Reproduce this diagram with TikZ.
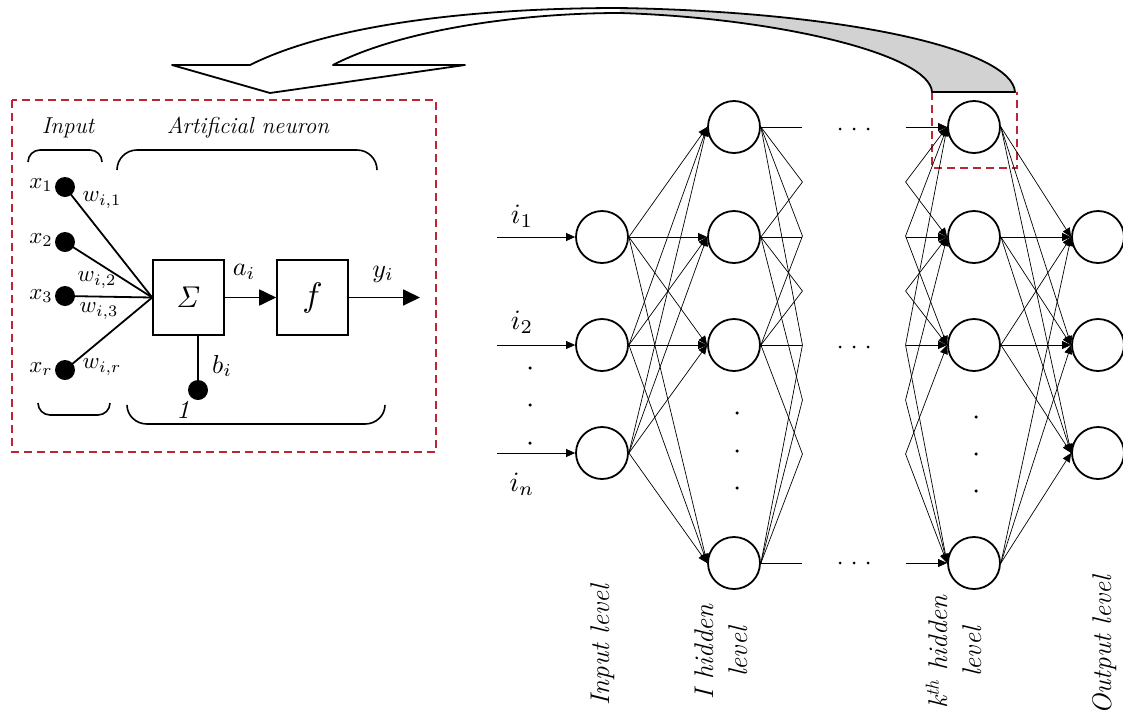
\documentclass[tikz,border=0pt]{standalone}
\usetikzlibrary{arrows.meta,calc}
\definecolor{dashred}{RGB}{185,40,50}
\begin{document}
\begin{tikzpicture}[x=1pt,y=-1pt,
  every node/.style={inner sep=0pt},
  nline/.style={line width=1.8pt},
  bigdot/.style={circle,fill=black,minimum size=20pt,inner sep=0pt},
  tinydot/.style={circle,fill=black,minimum size=3.5pt,inner sep=0pt},
  opbox/.style={draw,line width=1.6pt,minimum width=71pt,minimum height=75pt,inner sep=0pt},
  unit/.style={circle,draw,line width=1.8pt,minimum size=52pt,inner sep=0pt},
  link/.style={line width=0.7pt},
  netarrow/.style={link,-{Triangle[length=9pt,width=8pt]}},
  bigarrow/.style={line width=1.8pt,-{Triangle[length=17pt,width=16pt]}},
  redbox/.style={draw=dashred,line width=1.8pt,dash pattern=on 8pt off 5pt},
  bracepath/.style={line width=1.6pt},
  headlbl/.style={font=\fontsize{23}{26}\selectfont\itshape},
  botlbl/.style={font=\fontsize{27}{34}\selectfont\itshape,rotate=90,align=center},
  xlab/.style={scale=2.3},
  mlab/.style={scale=2.6},
  netlab/.style={scale=2.8},
]
\useasboundingbox (0,0) rectangle (1123,718);

% ---------- dashed frames ----------
\draw[redbox] (12,100) rectangle (436,452);
\draw[redbox] (932,92) -- (932,168) -- (1017,168) -- (1017,92);

% ---------- big curved arrow ----------
\fill[gray!35] (620,8) .. controls (850,12) and (1012,50) .. (1015,92) -- (932,92)
   .. controls (930,55) and (780,18) .. (620,13) -- cycle;
\draw[line width=1.8pt,line join=round]
   (172,65) -- (250,65) .. controls (330,25) and (470,8) .. (620,8)
   .. controls (850,12) and (1012,50) .. (1015,92) -- (932,92)
   .. controls (930,55) and (780,18) .. (620,13)
   .. controls (520,13) and (400,30) .. (333,65) -- (465,65) -- (270,93) -- cycle;

% ---------- artificial neuron ----------
\node[headlbl] (tin) at (68,128) {Input};
\node[headlbl] (tan) at (248,128) {Artificial neuron};
\draw[bracepath] (28,162) to[out=90,in=180] (40,150) -- (90,150) to[out=0,in=90] (102,162);
\draw[bracepath] (117,170) to[out=90,in=180] (137,150) -- (357,150) to[out=0,in=90] (377,170);
\draw[bracepath] (38,403) to[out=-90,in=180] (50,415) -- (98,415) to[out=0,in=-90] (110,403);
\draw[bracepath] (127,405) to[out=-90,in=180] (147,424) -- (365,424) to[out=0,in=-90] (385,405);

\node[opbox] (sum) at (188.5,297.5) {};
\node[opbox] (f) at (312.5,297.5) {};
\node[scale=3.0] (sumsym) at (sum.center) {$\mathit{\Sigma}$};
\node[scale=3.4] (fsym) at (f.center) {$f$};

\node[bigdot] (x1) at (65,187) {};
\node[bigdot] (x2) at (65,242) {};
\node[bigdot] (x3) at (65,296) {};
\node[bigdot] (xr) at (65,370) {};
\foreach \d in {x1,x2,x3,xr} \draw[nline] (\d.center) -- (sum.west);

\node[xlab] (lx1) at (41,185) {$x_1$};
\node[xlab] (lx2) at (41,240) {$x_2$};
\node[xlab] (lx3) at (41,296) {$x_3$};
\node[xlab] (lxr) at (41,369) {$x_r$};
\node[xlab] (lw1) at (102,200) {$w_{i,1}$};
\node[xlab] (lw2) at (97,280) {$w_{i,2}$};
\node[xlab] (lw3) at (99,311) {$w_{i,3}$};
\node[xlab] (lwr) at (102,367) {$w_{i,r}$};

\draw[bigarrow] (sum.east) -- (f.west);
\coordinate (yout) at (420,297.5);
\draw[bigarrow] (f.east) -- (yout);
\node[mlab] (lai) at (244,272) {$a_i$};
\node[mlab] (lyi) at (383,274) {$y_i$};

\node[bigdot] (one) at (198,390) {};
\draw[nline] (one.center) -- (one |- sum.south);
\node[mlab] (lbi) at (222,366) {$b_i$};
\node[mlab] (lone) at (183,410) {\itshape 1};

% ---------- network ----------
\foreach \n/\y in {1/237,2/345,3/453} {
  \node[unit] (in\n) at (602,\y) {};
  \coordinate (src\n) at (497,\y);
  \draw[netarrow] (src\n) -- (in\n.west);
}
\foreach \n/\y in {1/127,2/237,3/345,4/563} {
  \node[unit] (ha\n) at (734,\y) {};
  \node[unit] (hk\n) at (974,\y) {};
  \coordinate (ga\n) at (844,\y);
  \coordinate (gb\n) at (864,\y);
}
\foreach \n/\y in {1/237,2/345,3/453} \node[unit] (out\n) at (1098,\y) {};

\foreach \i in {1,2,3} \foreach \j in {1,2,3,4}
  \draw[netarrow] (in\i.east) -- (ha\j.west);
\foreach \i in {1,2,3,4} \foreach \j in {1,2,3,4} {
  \draw[link] (ha\i.east) -- ($(ha\i.east)!0.5!(ga\j)$);
  \draw[netarrow] ($(gb\j)!0.5!(hk\i.west)$) -- (hk\i.west);
}
\foreach \i in {1,2,3,4} \foreach \j in {1,2,3}
  \draw[netarrow] (hk\i.east) -- (out\j.west);

\node[netlab] (li1) at (522,216) {$i_1$};
\node[netlab] (li2) at (522,322) {$i_2$};
\node[netlab] (lin) at (522,484) {$i_n$};

\node[tinydot] (va1) at (530,368) {};
\node[tinydot] (va2) at (530,405) {};
\node[tinydot] (va3) at (530,443) {};
\node[tinydot] (vb1) at (737,413) {};
\node[tinydot] (vb2) at (737,451) {};
\node[tinydot] (vb3) at (737,488) {};
\node[tinydot] (vc1) at (976,417) {};
\node[tinydot] (vc2) at (976,454) {};
\node[tinydot] (vc3) at (976,491) {};
\foreach \r/\y in {1/129,2/347,3/563} {
  \node[tinydot,minimum size=3pt] (hd\r a) at (840,\y) {};
  \node[tinydot,minimum size=3pt] (hd\r b) at (854,\y) {};
  \node[tinydot,minimum size=3pt] (hd\r c) at (868,\y) {};
}

\node[botlbl] (llin) at (603,645) {Input level};
\node[botlbl] (llh1) at (721,652) {I hidden\\level};
\node[botlbl] (llhk) at (954,652) {\textit{k}\textsuperscript{\itshape th} hidden\\level};
\node[botlbl] (llout) at (1105,645) {Output level};
\end{tikzpicture}
\end{document}
